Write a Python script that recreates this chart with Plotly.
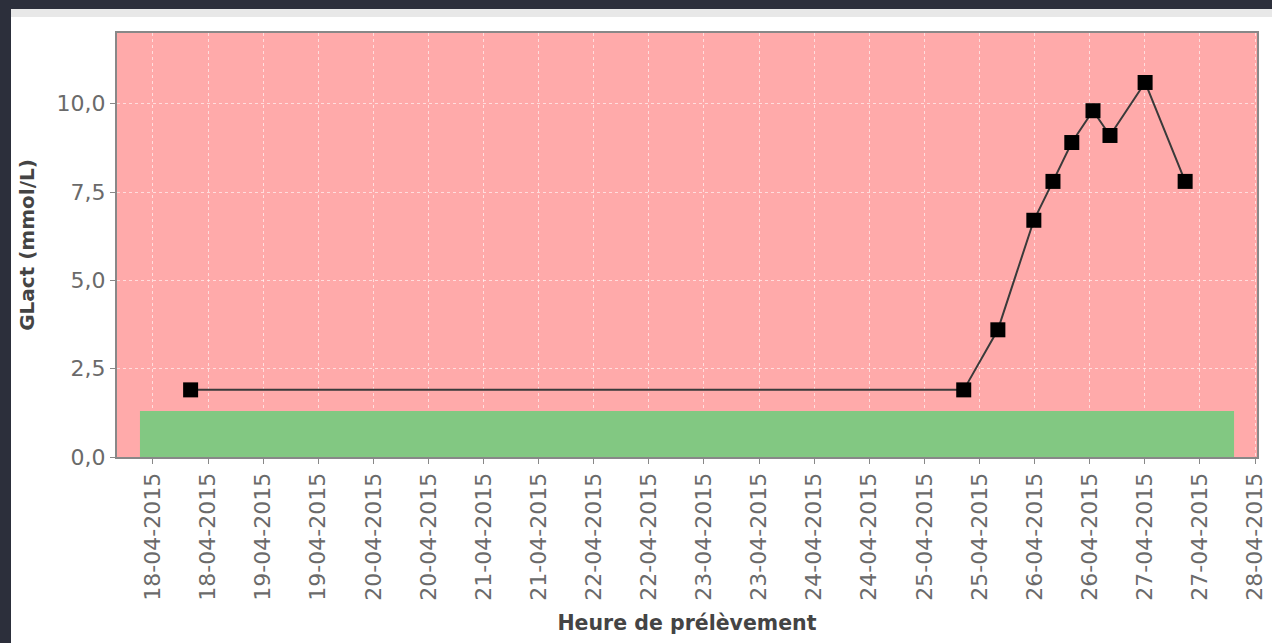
import plotly.graph_objects as go

# Sample times and GLact measurements (mmol/L)
sample_times = [
    "2015-04-18 08:12", "2015-04-25 08:34", "2015-04-25 16:00",
    "2015-04-25 23:50", "2015-04-26 04:00", "2015-04-26 08:06",
    "2015-04-26 12:43", "2015-04-26 16:25", "2015-04-27 00:04",
    "2015-04-27 08:47",
]
glact_values = [1.9, 1.9, 3.6, 6.7, 7.8, 8.9, 9.8, 9.1, 10.6, 7.8]

# Reference (normal) band
band_start = "2015-04-17 21:10"
band_end = "2015-04-27 19:26"
band_low = 0.0
band_high = 1.3

x_range = ["2015-04-17 16:10", "2015-04-28 00:26"]
y_range = [0, 12]

W, H = 1272, 643
ML, MR, MT, MB = 117, 15, 33, 186
pw, ph = W - ML - MR, H - MT - MB


def px_to_paper_x(px):
    return (px - ML) / pw


def px_to_paper_y(py):
    return (H - MB - py) / ph


fig = go.Figure()

fig.add_trace(go.Scatter(
    x=sample_times, y=glact_values, mode="lines+markers",
    line=dict(color="#3a3a3a", width=2),
    marker=dict(symbol="square", size=15, color="black"),
    showlegend=False, hoverinfo="x+y",
))

shapes = [
    # reference band
    dict(type="rect", xref="x", yref="y", x0=band_start, x1=band_end,
         y0=band_low, y1=band_high, fillcolor="#82c882", line_width=0,
         layer="between"),
    # dark page surround
    dict(type="rect", xref="paper", yref="paper",
         x0=px_to_paper_x(-50), x1=px_to_paper_x(11),
         y0=px_to_paper_y(700), y1=px_to_paper_y(-50),
         fillcolor="#2c2f3b", line_width=0, layer="above"),
    dict(type="rect", xref="paper", yref="paper",
         x0=px_to_paper_x(-50), x1=px_to_paper_x(1330),
         y0=px_to_paper_y(9), y1=px_to_paper_y(-50),
         fillcolor="#2c2f3b", line_width=0, layer="above"),
    # light strip at top of panel
    dict(type="rect", xref="paper", yref="paper",
         x0=px_to_paper_x(11), x1=px_to_paper_x(1330),
         y0=px_to_paper_y(17), y1=px_to_paper_y(9),
         fillcolor="#e8e8e8", line_width=0, layer="above"),
]

fig.update_layout(
    width=W, height=H,
    margin=dict(l=ML, r=MR, t=MT, b=MB, autoexpand=False),
    paper_bgcolor="white",
    plot_bgcolor="#ffaaaa",
    separators=", ",
    shapes=shapes,
    font=dict(family="DejaVu Sans", color="#666666"),
)

fig.update_xaxes(
    type="date", range=x_range, automargin=False,
    tick0="2015-04-18", dtick=12 * 3600 * 1000,
    tickformat="%d-%m-%Y", tickangle=-90,
    tickfont=dict(size=22, color="#6a6a6a"),
    ticks="outside", ticklen=5, tickcolor="#888888", tickwidth=1,
    showgrid=True, gridcolor="rgba(255,255,255,0.6)", griddash="3px,3px",
    gridwidth=1,
    showline=True, linecolor="#888888", linewidth=2, mirror=True,
    zeroline=False,
    title=dict(text="<b>Heure de prélèvement</b>", standoff=16,
               font=dict(size=20.5, color="#444444")),
)

fig.update_yaxes(
    range=y_range, dtick=2.5, tick0=0, tickformat=".1f", automargin=False,
    tickfont=dict(size=22, color="#6a6a6a"),
    ticks="outside", ticklen=5, tickcolor="#888888", tickwidth=1,
    showgrid=True, gridcolor="rgba(255,255,255,0.6)", griddash="3px,3px",
    gridwidth=1,
    showline=True, linecolor="#888888", linewidth=2, mirror=True,
    zeroline=False,
    title=dict(text="<b>GLact (mmol/L)</b>", standoff=17,
               font=dict(size=20, color="#444444")),
)

fig.write_html("out.html")
